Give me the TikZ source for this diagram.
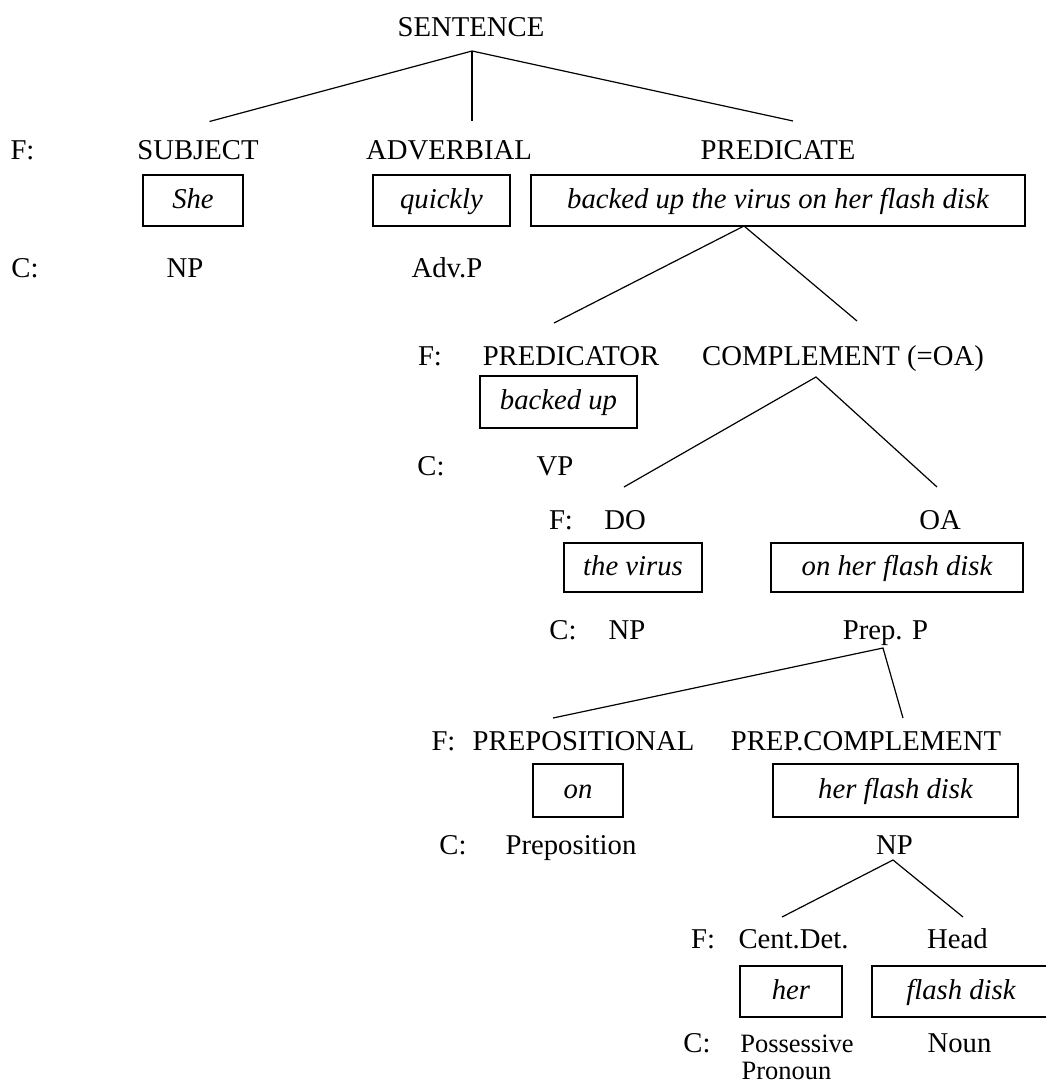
\documentclass[tikz,border=0pt]{standalone}
\usepackage{fontspec}
\setmainfont{Liberation Serif}
\begin{document}
\begin{tikzpicture}[x=1pt,y=-1pt,
  lbl/.style={anchor=base, inner sep=0pt, font=\fontsize{28.7}{34}\selectfont},
  sml/.style={anchor=base, inner sep=0pt, font=\fontsize{26.5}{31}\selectfont},
  wbox/.style={draw, line width=1.8pt, inner sep=0pt, minimum height=51pt,
    text height=21.5pt, text depth=5.8pt, font=\fontsize{28.7}{34}\selectfont\itshape},
  conn/.style={line width=1.2pt}]
\useasboundingbox (0,0) rectangle (1045,1086);

% Level 0
\node[lbl] (sentence) at (471,37) {SENTENCE};
\coordinate (sApex) at (472,51);
\coordinate (subjTop) at (209.5,121.5);
\coordinate (advTop) at (472,121);
\coordinate (predTop) at (793,121);
\draw[conn] (subjTop) -- (sApex) -- (predTop);
\draw[conn] (sApex) -- (advTop);

% Level 1
\node[lbl] (f1) at (22.5,160) {F:};
\node[lbl] (subject) at (198,160) {SUBJECT};
\node[lbl] (adverbial) at (449,160) {ADVERBIAL};
\node[lbl] (predicate) at (778,160) {PREDICATE};
\node[wbox, minimum width=100pt] (she) at (193,200.5) {She};
\node[wbox, minimum width=137pt] (quickly) at (441.5,200.5) {quickly};
\node[wbox, minimum width=494pt] (predbox) at (778,200.5) {backed up the virus on her flash disk};
\node[lbl] (c1) at (25,277) {C:};
\node[lbl] (np1) at (185,277) {NP};
\node[lbl] (advp) at (447,277) {Adv.P};

% Level 2
\coordinate (pApex) at (744,226);
\coordinate (predicatorTop) at (554,323);
\coordinate (complTop) at (857,321);
\draw[conn] (predicatorTop) -- (pApex) -- (complTop);
\node[lbl] (f2) at (430,365) {F:};
\node[lbl] (predicator) at (571,365) {PREDICATOR};
\node[lbl] (complement) at (843,365) {COMPLEMENT (=OA)};
\node[wbox, minimum width=157pt, minimum height=52pt] (backedup) at (558.5,402) {backed up};
\node[lbl] (c2) at (431,475) {C:};
\node[lbl] (vp) at (555,475) {VP};

% Level 3
\coordinate (cApex) at (816,377);
\coordinate (doTop) at (624,487);
\coordinate (oaTop) at (937,487);
\draw[conn] (doTop) -- (cApex) -- (oaTop);
\node[lbl] (f3) at (561,529) {F:};
\node[lbl] (do) at (625,529) {DO};
\node[lbl] (oa) at (940,529) {OA};
\node[wbox, minimum width=138pt, minimum height=49pt] (virus) at (633,567.5) {the virus};
\node[wbox, minimum width=252pt, minimum height=49pt] (onher) at (897,567.5) {on her flash disk};
\node[lbl] (c3) at (563,639) {C:};
\node[lbl] (np2) at (627,639) {NP};
\node[lbl] (prepp) at (885.5,639) {Prep. P};

% Level 4
\coordinate (ppApex) at (883,648);
\coordinate (prepTop) at (553,718);
\coordinate (pcTop) at (903,718);
\draw[conn] (prepTop) -- (ppApex) -- (pcTop);
\node[lbl] (f4) at (443.5,750) {F:};
\node[lbl] (prepositional) at (583.5,750) {PREPOSITIONAL};
\node[lbl] (prepcompl) at (866,750) {PREP.COMPLEMENT};
\node[wbox, minimum width=90pt, minimum height=53pt] (on) at (578,790.5) {on};
\node[wbox, minimum width=245pt, minimum height=53pt] (herflash) at (895.5,790.5) {her flash disk};
\node[lbl] (c4) at (453,854) {C:};
\node[lbl] (preposition) at (571,854) {Preposition};
\node[lbl] (np3) at (894.5,854) {NP};

% Level 5
\coordinate (npApex) at (893,860);
\coordinate (detTop) at (782,917);
\coordinate (headTop) at (963,917);
\draw[conn] (detTop) -- (npApex) -- (headTop);
\node[lbl] (f5) at (703,948) {F:};
\node[lbl] (centdet) at (793.5,948) {Cent.Det.};
\node[lbl] (head) at (957.5,948) {Head};
\node[wbox, minimum width=102pt] (her) at (791,991.5) {her};
\node[wbox, minimum width=178pt] (flashdisk) at (961,991.5) {flash disk};
\node[lbl] (c5) at (697,1052) {C:};
\node[sml] (possessive) at (797,1052) {Possessive};
\node[sml] (pronoun) at (786.5,1079) {Pronoun};
\node[lbl] (noun) at (959.5,1052) {Noun};
\end{tikzpicture}
\end{document}
